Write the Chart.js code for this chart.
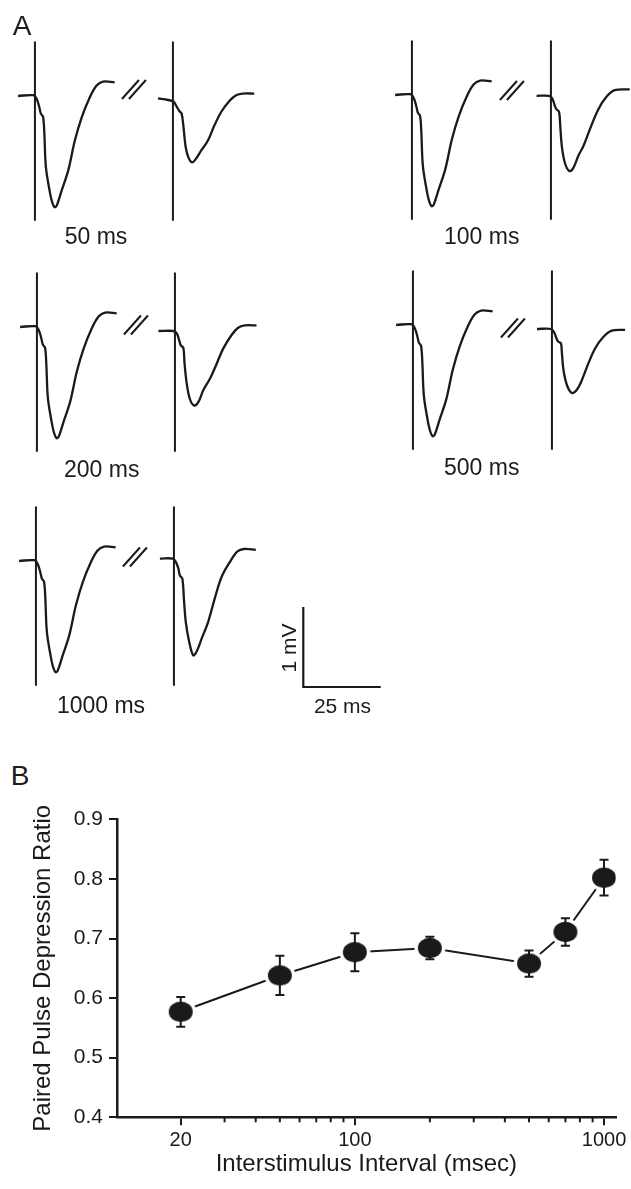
<!DOCTYPE html>
<html>
<head>
<meta charset="utf-8">
<script src="https://cdn.jsdelivr.net/npm/chart.js@4.4.1/dist/chart.umd.min.js"></script>
<style>
  body { margin: 0; width: 631px; height: 1189px; overflow: hidden; background: #fff; position: relative;
         font-family: "Liberation Sans", Arial, sans-serif; color: #1c1c1c; }
  canvas { position: absolute; }
  .lbl { position: absolute; transform: translate(-50%, -50%); line-height: 1; white-space: nowrap; }
</style>
</head>
<body>
<script>
// ---- panel A: field potentials (time in ms from the stimulus, amplitude in mV) ----
const intervals = [50, 100, 200, 500, 1000];

// first response, the same for every pair
const firstTime = [-5.4, -0.5, 0.5, 1.4, 1.9, 2.6, 3.0, 3.5, 4.6, 5.4, 6.3, 7.0, 8.6, 10.7, 12.8, 15.0, 17.6, 19.8, 21.9, 25.6];
const firstVolt = [0, 0.01, -0.03, -0.14, -0.22, -0.26, -0.45, -0.88, -1.16, -1.31, -1.39, -1.37, -1.18, -0.93, -0.56, -0.27, -0.02, 0.13, 0.18, 0.17];

// second responses
const second50Time = [-4.8, -1.6, 0.2, 1.3, 2.1, 2.8, 3.4, 4.1, 5.1, 6.2, 7.5, 9.1, 11.2, 13.3, 15.5, 18.2, 20.3, 22.4, 26.1];
const second50Volt = [-0.03, -0.05, -0.07, -0.14, -0.19, -0.22, -0.39, -0.64, -0.78, -0.83, -0.78, -0.68, -0.56, -0.37, -0.2, -0.06, 0.01, 0.03, 0.03];
const second100Time = [-4.6, -0.6, 0.4, 1.3, 1.8, 2.6, 3.0, 3.5, 4.5, 5.9, 7.2, 8.8, 10.4, 12.5, 15.2, 17.9, 20.5, 25.3];
const second100Volt = [-0.01, -0.01, -0.04, -0.14, -0.18, -0.21, -0.39, -0.64, -0.85, -0.95, -0.91, -0.76, -0.64, -0.43, -0.18, -0.02, 0.06, 0.07];
const second200Time = [-5.3, -0.5, 0.6, 1.4, 1.9, 2.7, 3.1, 3.8, 4.8, 6.1, 7.5, 9.1, 11.2, 13.4, 15.5, 18.2, 20.3, 22.4, 26.2];
const second200Volt = [-0.05, -0.05, -0.08, -0.17, -0.23, -0.26, -0.46, -0.71, -0.9, -0.98, -0.94, -0.79, -0.65, -0.46, -0.27, -0.1, -0.01, 0.02, 0.02];
const second500Time = [-4.8, -0.2, 0.8, 1.6, 2.1, 2.9, 3.2, 3.7, 4.8, 6.4, 8.0, 9.6, 11.7, 13.9, 16.5, 19.2, 23.5];
const second500Volt = [-0.05, -0.05, -0.1, -0.18, -0.21, -0.23, -0.35, -0.56, -0.75, -0.85, -0.81, -0.69, -0.48, -0.29, -0.15, -0.07, -0.06];
const second1000Time = [-4.5, -0.4, 0.6, 1.4, 1.9, 2.7, 3.2, 3.8, 4.9, 6.2, 7.3, 8.9, 11.0, 13.1, 15.3, 18.0, 20.4, 22.5, 26.3];
const second1000Volt = [0.03, 0.03, -0.01, -0.09, -0.18, -0.22, -0.47, -0.76, -1.01, -1.18, -1.13, -0.97, -0.76, -0.47, -0.2, -0.01, 0.12, 0.15, 0.14];

const artifactSpan = [0.68, -1.56]; // stimulus artifact, mV
const scaleBarMs = 25, scaleBarMv = 1;

// ---- panel B: paired pulse depression ----
const isiMs = [20, 50, 100, 200, 500, 700, 1000];
const ppdRatio = [0.577, 0.638, 0.677, 0.684, 0.658, 0.711, 0.802];
const ppdErr = [0.025, 0.033, 0.032, 0.019, 0.022, 0.023, 0.030];
const xMajor = [20, 100, 1000];
const xMinor = [30, 40, 50, 60, 70, 80, 90, 200, 300, 400, 500, 600, 700, 800, 900];
const yTicks = [0.4, 0.5, 0.6, 0.7, 0.8, 0.9];

const ink = '#1a1a1a';
Chart.defaults.font.family = '"Liberation Sans", Arial, sans-serif';
Chart.defaults.color = ink;

// layout of panel A (page pixels): stimulus x / baseline y of each trace
const PX_MS = 3.11, PX_MV = 80;
const T_MIN = -17, T_MAX = 27, V_MIN = -1.65, V_MAX = 0.75;
const secondSets = [
  [second50Time, second50Volt], [second100Time, second100Volt], [second200Time, second200Volt],
  [second500Time, second500Volt], [second1000Time, second1000Volt]
];
const firstAnchor = [[35, 95.5], [412.3, 95], [36.7, 326.7], [413.3, 325], [36, 561]];
const secondAnchor = [[173.3, 95.5], [551, 95], [175, 326.7], [551.7, 325], [174, 561]];
const breakDy = [-6.5, -4.5, -2, 3, -4];
const labelPos = [[96, 236], [481.7, 236], [101.7, 469], [481.7, 467], [101, 705]];

// the "//" between the two sweeps of a pair
const breakMark = {
  id: 'breakMark',
  afterDraw(chart, args, opts) {
    if (opts.dy === undefined) return;
    const {ctx, scales: {x, y}} = chart;
    const x0 = x.getPixelForValue(0), y0 = y.getPixelForValue(0) + opts.dy;
    ctx.save();
    ctx.strokeStyle = ink;
    ctx.lineWidth = 2;
    [-51, -44].forEach(dx => {
      ctx.beginPath();
      ctx.moveTo(x0 + dx, y0 + 9.5);
      ctx.lineTo(x0 + dx + 17, y0 - 9.5);
      ctx.stroke();
    });
    ctx.restore();
  }
};

function addLabel(text, x, y, size, rotate) {
  const d = document.createElement('div');
  d.className = 'lbl';
  d.textContent = text;
  d.style.left = x + 'px';
  d.style.top = y + 'px';
  d.style.fontSize = size + 'px';
  if (rotate) d.style.transform = 'translate(-50%, -50%) rotate(-90deg)';
  document.body.appendChild(d);
}

function traceChart(times, volts, anchor, dy) {
  const cv = document.createElement('canvas');
  cv.width = Math.round((T_MAX - T_MIN) * PX_MS);
  cv.height = Math.round((V_MAX - V_MIN) * PX_MV);
  cv.style.left = (anchor[0] + T_MIN * PX_MS) + 'px';
  cv.style.top = (anchor[1] - V_MAX * PX_MV) + 'px';
  document.body.appendChild(cv);
  return new Chart(cv, {
    type: 'line',
    data: {
      datasets: [
        { data: times.map((t, i) => ({x: t, y: volts[i]})), borderColor: ink, borderWidth: 2.3,
          pointRadius: 0, tension: 0.35 },
        { data: artifactSpan.map(v => ({x: 0, y: v})), borderColor: ink, borderWidth: 2, pointRadius: 0 }
      ]
    },
    options: {
      responsive: false, animation: false, devicePixelRatio: 1, events: [],
      layout: { padding: 0 },
      scales: {
        x: { type: 'linear', display: false, min: T_MIN, max: T_MAX },
        y: { display: false, min: V_MIN, max: V_MAX }
      },
      plugins: { legend: { display: false }, tooltip: { enabled: false }, breakMark: { dy: dy } }
    },
    plugins: [breakMark]
  });
}

intervals.forEach((ms, i) => {
  traceChart(firstTime, firstVolt, firstAnchor[i]);
  traceChart(secondSets[i][0], secondSets[i][1], secondAnchor[i], breakDy[i]);
  addLabel(ms + ' ms', labelPos[i][0], labelPos[i][1], 23);
});

// scale bar, drawn on the same ms / mV scale as the traces
(function () {
  const cv = document.createElement('canvas');
  const tMin = -3, tMax = 28, vMin = -0.15, vMax = 1.1;
  cv.width = Math.round((tMax - tMin) * PX_MS);
  cv.height = Math.round((vMax - vMin) * PX_MV);
  cv.style.left = (303.3 + tMin * PX_MS) + 'px';
  cv.style.top = (686.7 - vMax * PX_MV) + 'px';
  document.body.appendChild(cv);
  new Chart(cv, {
    type: 'line',
    data: { datasets: [{ data: [{x: 0, y: scaleBarMv}, {x: 0, y: 0}, {x: scaleBarMs, y: 0}],
                         borderColor: ink, borderWidth: 2.2, pointRadius: 0 }] },
    options: {
      responsive: false, animation: false, devicePixelRatio: 1, events: [],
      scales: { x: { type: 'linear', display: false, min: tMin, max: tMax }, y: { display: false, min: vMin, max: vMax } },
      plugins: { legend: { display: false }, tooltip: { enabled: false } }
    }
  });
})();
addLabel(scaleBarMv + ' mV', 288.3, 648.3, 21, true);
addLabel(scaleBarMs + ' ms', 342.5, 705, 21);

addLabel('A', 22, 26, 28);
addLabel('B', 20, 776, 28);

// ---- panel B chart ----
function dotImage() {
  const c = document.createElement('canvas');
  c.width = 32; c.height = 28;
  const g = c.getContext('2d');
  g.fillStyle = '#fff';
  g.beginPath(); g.ellipse(16, 14, 15.5, 13.5, 0, 0, Math.PI * 2); g.fill();
  g.fillStyle = ink;
  g.beginPath(); g.ellipse(16, 14, 12, 10.2, 0, 0, Math.PI * 2); g.fill();
  return c;
}

const errorBars = {
  id: 'errorBars',
  afterDatasetsDraw(chart) {
    const {ctx, scales: {x, y}} = chart;
    ctx.save();
    ctx.strokeStyle = ink;
    ctx.lineWidth = 2;
    isiMs.forEach((ms, i) => {
      const px = x.getPixelForValue(ms);
      const top = y.getPixelForValue(ppdRatio[i] + ppdErr[i]);
      const bot = y.getPixelForValue(ppdRatio[i] - ppdErr[i]);
      ctx.beginPath();
      ctx.moveTo(px, top); ctx.lineTo(px, bot);
      ctx.moveTo(px - 4.5, top); ctx.lineTo(px + 4.5, top);
      ctx.moveTo(px - 4.5, bot); ctx.lineTo(px + 4.5, bot);
      ctx.stroke();
    });
    // minor ticks of the log axis
    xMinor.forEach(v => {
      const px = x.getPixelForValue(v);
      ctx.beginPath();
      ctx.moveTo(px, x.top);
      ctx.lineTo(px, x.top + 5);
      ctx.stroke();
    });
    ctx.restore();
  }
};

const cvB = document.createElement('canvas');
cvB.width = 631; cvB.height = 399;
cvB.style.left = '0px'; cvB.style.top = '790px';
document.body.appendChild(cvB);

new Chart(cvB, {
  type: 'line',
  data: {
    datasets: [{
      data: isiMs.map((ms, i) => ({x: ms, y: ppdRatio[i]})),
      borderColor: ink, borderWidth: 2,
      pointStyle: dotImage(), pointRadius: 12
    }]
  },
  options: {
    responsive: false, animation: false, devicePixelRatio: 1, events: [],
    layout: { padding: { top: 29.3, right: 15.3, left: 0, bottom: 0 } },
    scales: {
      x: {
        type: 'logarithmic', min: 11.1, max: 1114,
        afterBuildTicks: s => { s.ticks = xMajor.map(v => ({value: v})); },
        afterFit: s => { s.height = 71.7; },
        grid: { drawOnChartArea: false, tickLength: 8, lineWidth: 2, color: ink },
        border: { color: ink, width: 2.5 },
        ticks: { font: { size: 20 }, padding: 3, maxRotation: 0, autoSkip: false, callback: v => String(v) },
        title: { display: true, text: 'Interstimulus Interval (msec)', font: { size: 24 }, padding: { top: 0, bottom: 10.5 } }
      },
      y: {
        min: 0.4, max: 0.9,
        afterBuildTicks: s => { s.ticks = yTicks.map(v => ({value: v})); },
        afterFit: s => { s.width = 117; },
        grid: { drawOnChartArea: false, tickLength: 8, lineWidth: 2, color: ink },
        border: { color: ink, width: 2.5 },
        ticks: { font: { size: 21 }, padding: 6, callback: v => v.toFixed(1) },
        title: { display: true, text: 'Paired Pulse Depression Ratio', font: { size: 24 }, padding: { top: 28.6, bottom: 0 } }
      }
    },
    plugins: { legend: { display: false }, tooltip: { enabled: false } }
  },
  plugins: [errorBars]
});
</script>
</body>
</html>
